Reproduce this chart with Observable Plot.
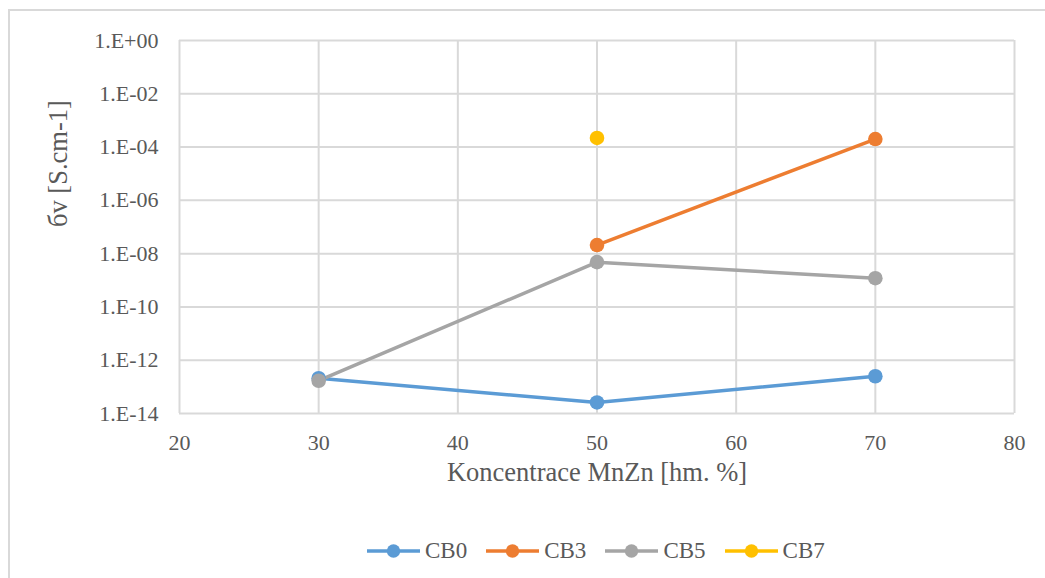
<!DOCTYPE html>
<html>
<head>
<meta charset="utf-8">
<script src="https://cdn.jsdelivr.net/npm/d3@7"></script>
<script src="https://cdn.jsdelivr.net/npm/@observablehq/plot@0.6"></script>
<style>
  html, body { margin: 0; padding: 0; background: #fff; overflow: hidden; }
  #wrap { position: relative; width: 1045px; height: 578px; }
  #border { position: absolute; left: 8px; top: 9px; width: 1100px; height: 700px;
            border-left: 2px solid #d9d9d9; border-top: 2px solid #d9d9d9; }
  #chart { position: absolute; left: 0; top: 0; }
  #chart svg, #chart svg text { font-family: "Liberation Serif", "Times New Roman", serif !important; }
  #legend { position: absolute; left: 367px; top: 538px; display: flex; align-items: center;
            font-family: "Liberation Serif", "Times New Roman", serif; font-size: 23px; color: #595959; }
  .item { display: flex; align-items: center; margin-right: 19px; }
  .item svg { margin-right: 5px; }
</style>
</head>
<body>
<div id="wrap">
  <div id="border"></div>
  <div id="chart"></div>
  <div id="legend"></div>
</div>
<script>
const seriesNames = ["CB0", "CB3", "CB5", "CB7"];
const seriesColors = ["#5b9bd5", "#ed7d31", "#a5a5a5", "#ffc000"];
const concentrations = [30, 50, 70];
const cb0 = [2.1e-13, 2.6e-14, 2.5e-13];
const cb3 = [null, 2.1e-8, 2.0e-4];
const cb5 = [1.7e-13, 4.8e-9, 1.2e-9];
const cb7 = [null, 2.2e-4, null];
const xTicks = [20, 30, 40, 50, 60, 70, 80];
const yTicks = [1e0, 1e-2, 1e-4, 1e-6, 1e-8, 1e-10, 1e-12, 1e-14];
const yTickLabels = ["1.E+00", "1.E-02", "1.E-04", "1.E-06", "1.E-08", "1.E-10", "1.E-12", "1.E-14"];
const xTitle = "Koncentrace MnZn [hm. %]";
const yTitle = "бv [S.cm-1]";

const seriesValues = [cb0, cb3, cb5, cb7];
const rows = [];
seriesNames.forEach((s, i) => {
  seriesValues[i].forEach((v, j) => {
    if (v != null) rows.push({series: s, x: concentrations[j], y: v});
  });
});

const font = "Liberation Serif, Times New Roman, serif";
const grid = "#d9d9d9";
const textColor = "#595959";

const chart = Plot.plot({
  width: 1045,
  height: 578,
  marginLeft: 179,
  marginRight: 31,
  marginTop: 40,
  marginBottom: 165,
  style: {fontFamily: font, color: textColor, fontSize: "22px", background: "transparent"},
  x: {domain: [20, 80]},
  y: {type: "log", domain: [1e-14, 1]},
  color: {domain: seriesNames, range: seriesColors},
  marks: [
    Plot.gridX(xTicks, {stroke: grid, strokeOpacity: 1, strokeWidth: 2}),
    Plot.gridY(yTicks, {stroke: grid, strokeOpacity: 1, strokeWidth: 2}),
    Plot.axisX(xTicks, {tickSize: 0, tickPadding: 21, label: null, fontSize: 22, fontFamily: font, fill: textColor}),
    Plot.axisY(yTicks, {tickSize: 0, tickPadding: 21, label: null, fontSize: 22, fontFamily: font, fill: textColor,
      tickFormat: d => yTickLabels[yTicks.indexOf(d)]}),
    Plot.line(rows, {x: "x", y: "y", z: "series", stroke: "series", strokeWidth: 3.5}),
    Plot.dot(rows, {x: "x", y: "y", fill: "series", r: 7.3}),
    Plot.text([xTitle], {frameAnchor: "bottom", dy: 67, fontSize: 26.5, fontFamily: font, fill: textColor}),
    Plot.text([yTitle], {frameAnchor: "left", dx: -121, rotate: -90, fontSize: 26.5, fontFamily: font, fill: textColor})
  ]
});
document.getElementById("chart").appendChild(chart);

const legend = document.getElementById("legend");
seriesNames.forEach((s, i) => {
  const item = document.createElement("div");
  item.className = "item";
  const c = seriesColors[i];
  item.innerHTML = `<svg width="53" height="16"><line x1="0" y1="8" x2="53" y2="8" stroke="${c}" stroke-width="3.5"/><circle cx="26.5" cy="8" r="6.7" fill="${c}"/></svg><span>${s}</span>`;
  legend.appendChild(item);
});
</script>
</body>
</html>
